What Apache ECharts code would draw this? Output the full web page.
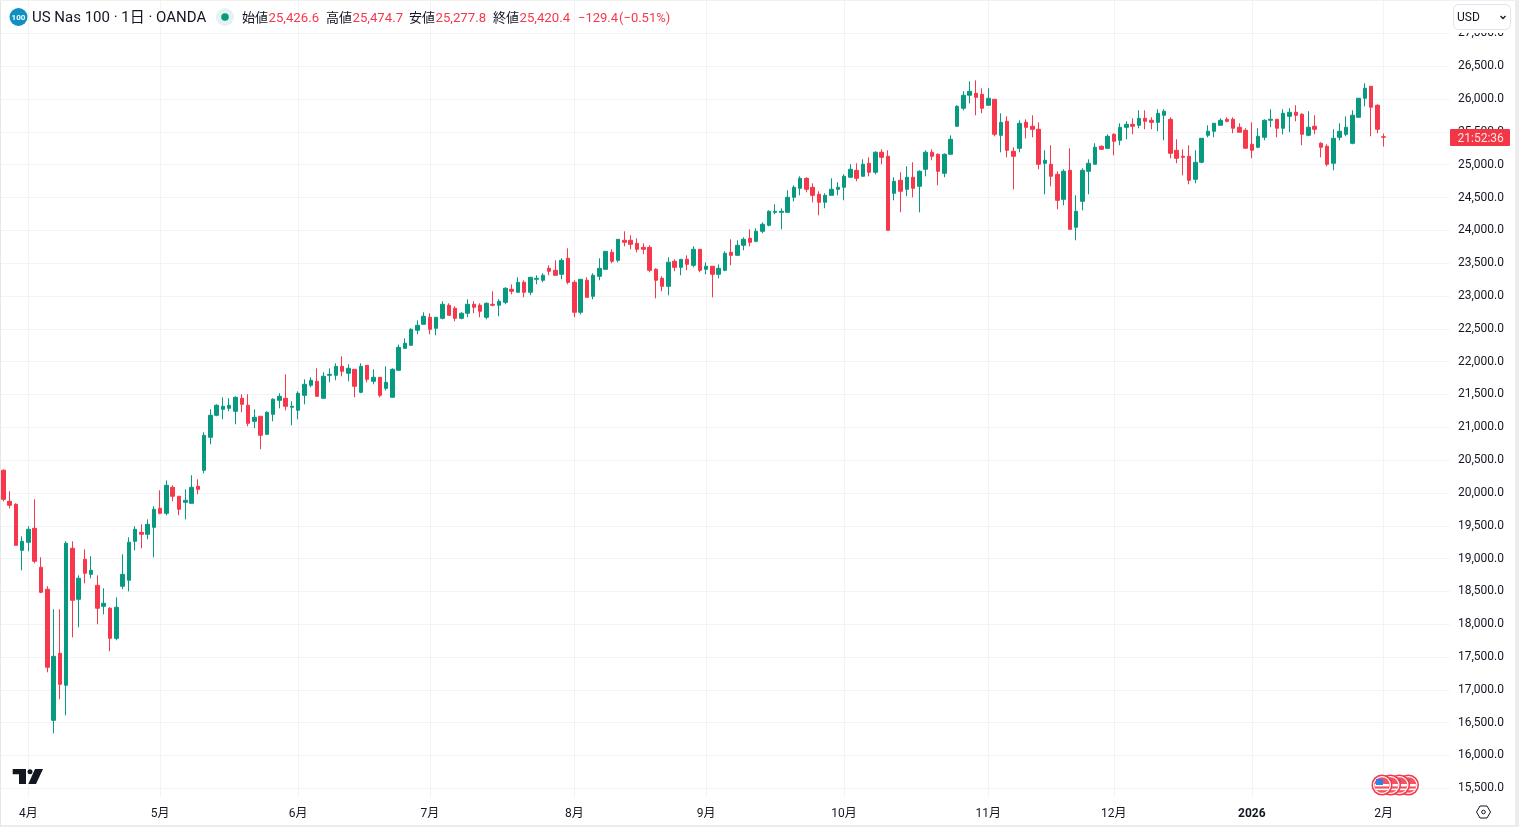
<!DOCTYPE html>
<html><head><meta charset="utf-8">
<style>html,body{margin:0;padding:0;background:#fff;overflow:hidden}#c{width:1519px;height:827px}</style>
<script src="https://cdn.jsdelivr.net/npm/echarts@6/dist/echarts.min.js"></script>
</head><body><div id="c"></div>
<script>
// each candle: [open, close, low, high]
const march=[[20345,19903,19873,20360],[19873,19812,19766,20025],[19827,19202,19202,19842],[19126,19263,18822,19340]];
const april=[[19248,19446,19111,19492],[19461,18959,18928,19903],[18867,18486,18471,19019],[18532,17344,17267,18578],[16536,17511,16338,18227],[17557,17085,16856,18227],[17070,19233,16612,19263],[19157,18364,17801,19263],[18380,18700,17953,18745],[18989,18776,18623,19141],[18760,18821,18700,19035],[18593,18243,18000,18745],[18273,18319,18151,18547],[18243,17785,17587,18258],[17785,18258,17755,18410],[18578,18760,18532,19065],[18669,19248,18501,19324],[19263,19446,19126,19492],[19400,19370,19157,19522],[19370,19522,19294,19598],[19476,19751,19019,19796]];
const may=[[19766,19690,19675,20040],[19690,20116,19659,20192],[20086,19949,19873,20116],[19949,19751,19659,19949],[19857,19888,19598,20055],[19842,20086,19842,20269],[20101,20055,19979,20208],[20345,20878,20299,20924],[20848,21183,20741,21274],[21183,21335,21168,21350],[21274,21320,21122,21457],[21289,21335,21244,21442],[21244,21457,21046,21472],[21442,21350,21228,21503],[21335,21061,21015,21503],[21091,21152,20985,21274],[21168,20878,20665,21168],[20893,21228,20893,21244],[21198,21427,21091,21442],[21411,21472,21289,21518],[21442,21320,21259,21807],[21305,21320,21030,21396]];
const june=[[21259,21518,21122,21548],[21487,21655,21350,21731],[21640,21716,21609,21762],[21701,21472,21472,21899],[21442,21777,21442,21838],[21792,21807,21685,21899],[21792,21929,21716,21975],[21929,21853,21777,22082],[21823,21899,21701,21960],[21883,21625,21457,21883],[21533,21929,21518,21975],[21944,21731,21685,21944],[21701,21762,21655,21883],[21762,21487,21457,21762],[21594,21685,21564,21929],[21457,21883,21457,21899],[21868,22219,21868,22260],[22203,22280,22203,22356],[22249,22493,22249,22508],[22478,22554,22417,22630],[22569,22691,22569,22752]];
const july=[[22676,22493,22417,22737],[22508,22676,22401,22676],[22660,22874,22645,22920],[22859,22706,22706,22889],[22813,22660,22615,22843],[22660,22737,22645,22752],[22737,22874,22676,22950],[22874,22828,22737,22920],[22859,22767,22676,22889],[22676,22889,22645,22904],[22874,22859,22843,23072],[22859,22920,22691,22950],[22904,23118,22874,23133],[23102,23072,23026,23178],[23057,23209,23057,23285],[23209,23057,22981,23240],[23057,23285,23011,23285],[23255,23270,23179,23316],[23240,23316,23209,23346],[23422,23377,23316,23468],[23392,23316,23316,23544],[23331,23544,23255,23575],[23575,23209,23179,23727]];
const august=[[23209,22752,22676,23240],[22752,23255,22721,23255],[23240,22980,22980,23285],[22996,23316,22950,23346],[23300,23422,23240,23575],[23407,23681,23407,23681],[23666,23529,23499,23712],[23544,23864,23514,23864],[23849,23818,23757,23986],[23849,23788,23712,23925],[23803,23712,23666,23879],[23742,23712,23636,23803],[23742,23392,23361,23773],[23407,23240,22965,23422],[23270,23148,23072,23300],[23148,23514,23011,23590],[23529,23437,23377,23560],[23437,23560,23316,23560],[23560,23483,23392,23620],[23468,23712,23437,23757],[23712,23392,23361,23712]];
const september=[[23407,23453,23331,23514],[23453,23331,22980,23453],[23331,23422,23270,23483],[23392,23651,23377,23681],[23666,23620,23468,23864],[23620,23773,23620,23849],[23773,23864,23697,23895],[23879,23818,23757,24016],[23834,23986,23818,24032],[23986,24093,23955,24123],[24077,24291,24062,24306],[24275,24291,24245,24397],[24275,24291,24016,24336],[24275,24504,24275,24611],[24504,24656,24443,24687],[24641,24793,24534,24824],[24793,24626,24580,24809],[24656,24534,24428,24717],[24550,24428,24230,24595],[24428,24534,24337,24565],[24534,24626,24534,24794],[24626,24656,24534,24733]];
const october=[[24656,24824,24458,24855],[24809,24931,24809,25007],[24915,24794,24748,25022],[24824,25007,24824,25083],[25022,24885,24824,25113],[24885,25190,24854,25205],[25190,25113,25007,25235],[25129,24001,24001,25220],[24565,24748,24458,24809],[24763,24596,24275,24885],[24626,24809,24519,24976],[24809,24641,24504,25037],[24672,24900,24275,24915],[24931,25190,24824,25220],[25190,25129,25068,25235],[25159,24900,24687,25174],[24870,25159,24809,25174],[25159,25388,25159,25448],[25586,25890,25586,25906],[25860,26058,25829,26119],[26058,26119,25936,26271],[26088,26027,25753,26286],[26073,25860,25784,26165]];
const november=[[25906,26012,25906,26165],[25997,25464,25433,25997],[25448,25646,25189,25784],[25662,25220,25113,25738],[25205,25129,24626,25266],[25250,25631,25189,25677],[25646,25570,25403,25692],[25586,25540,25418,25753],[25540,25007,24930,25646],[25022,25068,24550,25220],[25007,24824,24672,25296],[24854,24458,24321,24900],[24473,24900,24382,24931],[24915,24016,24016,25250],[24047,24291,23849,24534],[24443,24915,24306,24946],[24900,25022,24550,25083],[25007,25266,25007,25327],[25281,25235,25235,25296],[25250,25433,25250,25464]];
const december=[[25464,25357,25144,25479],[25372,25570,25296,25631],[25570,25616,25388,25662],[25616,25586,25464,25707],[25601,25707,25555,25829],[25707,25662,25540,25829],[25677,25646,25540,25723],[25646,25784,25509,25845],[25753,25814,25372,25845],[25692,25174,25098,25723],[25220,25098,25022,25388],[25129,25113,24839,25235],[25129,24763,24702,25296],[24778,25037,24717,25220],[25038,25403,25022,25403],[25449,25510,25418,25601],[25510,25632,25418,25632],[25601,25677,25601,25708],[25693,25662,25647,25723],[25693,25556,25479,25723],[25571,25495,25495,25632],[25525,25251,25251,25556]];
const january=[[25312,25220,25099,25647],[25266,25434,25251,25556],[25418,25677,25373,25693],[25677,25693,25571,25845],[25693,25556,25418,25693],[25556,25784,25464,25845],[25738,25799,25495,25860],[25799,25754,25662,25906],[25769,25464,25297,25784],[25449,25571,25434,25815],[25586,25540,25464,25754],[25327,25266,25114,25342],[25281,25007,24977,25312],[25022,25403,24916,25540],[25418,25510,25373,25632],[25464,25571,25434,25738],[25327,25754,25312,25830],[25723,26013,25723,26013],[26013,26165,25891,26241],[26195,25876,25434,26195],[25906,25540,25479,25921]];
const february=[[25426.6,25420.4,25277.8,25474.7]];

const monthBlocks=[march,april,may,june,july,august,september,october,november,december,january,february];
const monthLabels=['','4月','5月','6月','7月','8月','9月','10月','11月','12月','2026','2月'];
const priceTicks=[15500,16000,16500,17000,17500,18000,18500,19000,19500,20000,20500,21000,21500,22000,22500,23000,23500,24000,24500,25000,25500,26000,26500,27000];
const headerValues=['25,426.6','25,474.7','25,277.8','25,420.4'];
const headerNames=['始値','高値','安値','終値'];
const blankBars=10;

const candles=[],cats=[];
monthBlocks.forEach((b,m)=>b.forEach((d,i)=>{candles.push(d);cats.push(i===0?monthLabels[m]:'');}));
for(let i=0;i<blankBars;i++)cats.push('');

const UP='#089981',DOWN='#F7374B',INK='#131722',GRID='#f2f3f5';
const FONT='Roboto,"Noto Sans CJK JP",sans-serif';
const isTick=(i,v)=>v!=='';
const T=(x,y,text,fill,size,extra)=>Object.assign({type:'text',z:120,style:{x,y,text,fill,font:(size||13)+'px '+FONT,textVerticalAlign:'middle'}},extra||{});

function flag(cx){const cy=785;return [
 {type:'circle',z:100,shape:{cx,cy,r:10.5},style:{fill:DOWN}},
 {type:'circle',z:100,shape:{cx,cy,r:9},style:{fill:'#fff'}},
 {type:'circle',z:100,shape:{cx,cy,r:7.8},style:{fill:'#f7525f'}},
 {type:'rect',z:100,shape:{x:cx-7.4,y:cy-1,width:14.8,height:2.4},style:{fill:'#fff'}},
 {type:'rect',z:100,shape:{x:cx-6.5,y:cy+3.6,width:13,height:1.6},style:{fill:'#fff'}},
 {type:'rect',z:100,shape:{x:cx-6,y:cy-6,width:7,height:6},style:{fill:'#2f80ed'}}
];}

const graphics=[
 {type:'rect',z:90,shape:{x:1450,y:0,width:69,height:33},style:{fill:'#fff'}},
 {type:'rect',z:95,shape:{x:1453.5,y:4.5,width:57,height:25,r:5},style:{fill:'#fff',stroke:'#e0e3eb',lineWidth:1}},
 T(1457,17.5,'USD',INK,12),
 {type:'polyline',z:120,shape:{points:[[1500.5,16],[1503,18.5],[1505.5,16]]},style:{stroke:INK,lineWidth:1.3,fill:null}},
 {type:'rect',z:95,shape:{x:1450,y:129,width:60,height:17,r:1},style:{fill:'#F23645'}},
 T(1457.5,139,'21:52:36','#ffe3e6',12),
 {type:'rect',z:110,shape:{x:1515,y:0,width:4,height:827},style:{fill:'#ececec'}},
 {type:'rect',z:110,shape:{x:0,y:825,width:1519,height:2},style:{fill:'#ececec'}},
 {type:'rect',z:110,shape:{x:0,y:0,width:1,height:827},style:{fill:'#e6e6e6'}},
 {type:'rect',z:110,shape:{x:0,y:0,width:1519,height:1},style:{fill:'#f0f0f0'}},
 {type:'circle',z:110,shape:{cx:18.5,cy:17,r:9},style:{fill:'#0f8fc4'}},
 T(18.5,17.5,'100','#fff',8,{style:{x:18.5,y:17.5,text:'100',fill:'#fff',font:'bold 8px '+FONT,textAlign:'center',textVerticalAlign:'middle'}}),
 T(32,18.5,'US Nas 100 · 1日 · OANDA',INK,15),
 {type:'circle',z:110,shape:{cx:225,cy:17,r:9},style:{fill:'#e3f3f0'}},
 {type:'circle',z:111,shape:{cx:225,cy:17,r:3.8},style:{fill:UP}},
 T(242,19,headerNames[0],INK,13),T(268.5,19,headerValues[0],DOWN,13.2),
 T(326,19,headerNames[1],INK,13),T(352.5,19,headerValues[1],DOWN,13.2),
 T(409,19,headerNames[2],INK,13),T(435.5,19,headerValues[2],DOWN,13.2),
 T(493,19,headerNames[3],INK,13),T(519.5,19,headerValues[3],DOWN,13.2),
 T(578,19,'−129.4',DOWN,13),T(619,19,'(−0.51%)',DOWN,13),
 // logo
 {type:'polygon',z:110,shape:{points:[[12.7,769],[26,769],[26,784],[19,784],[19,774.2],[12.7,774.2]]},style:{fill:INK}},
 {type:'circle',z:110,shape:{cx:30,cy:771.7,r:2.5},style:{fill:INK}},
 {type:'polygon',z:110,shape:{points:[[35,769],[43,769],[36,784],[28.3,784]]},style:{fill:INK}},
 // settings
 {type:'polygon',z:110,shape:{points:[[1476.5,812],[1480,806],[1487,806],[1490.5,812],[1487,818],[1480,818]]},style:{fill:null,stroke:INK,lineWidth:1}},
 {type:'circle',z:110,shape:{cx:1483.5,cy:812,r:1.8},style:{fill:null,stroke:INK,lineWidth:1}},
 ...flag(1408.5),...flag(1399.5),...flag(1390.5),...flag(1382)
];

const chart=echarts.init(document.getElementById('c'),null,{renderer:'canvas'});
chart.setOption({
 animation:false,
 backgroundColor:'#fff',
 grid:{left:0.2,top:1.3,width:1449.3,height:796,containLabel:false},
 xAxis:{type:'category',data:cats,boundaryGap:true,
  axisLine:{show:false},axisTick:{show:false,alignWithLabel:true,interval:isTick},
  splitLine:{show:true,interval:isTick,alignWithLabel:true,lineStyle:{color:GRID,width:1}},
  axisLabel:{interval:isTick,margin:10.5,color:INK,fontFamily:FONT,fontSize:12,hideOverlap:false,
   formatter:v=>v==='2026'?'{b|2026}':v,rich:{b:{fontWeight:'bold',fontSize:12,fontFamily:FONT,color:INK}}}},
 yAxis:{type:'value',position:'right',min:15363,max:27490,scale:true,
  axisLine:{show:false},axisTick:{show:false,customValues:priceTicks},
  splitLine:{show:true,lineStyle:{color:GRID,width:1}},
  axisLabel:{customValues:priceTicks,margin:8.5,align:'left',color:INK,fontFamily:FONT,fontSize:12,
   formatter:v=>v.toLocaleString('en-US',{minimumFractionDigits:1,maximumFractionDigits:1})}},
 series:[{type:'candlestick',data:candles,barWidth:4,
  itemStyle:{color:UP,color0:DOWN,borderColor:UP,borderColor0:DOWN,borderWidth:1}}],
 graphic:{elements:graphics}
});
</script></body></html>
